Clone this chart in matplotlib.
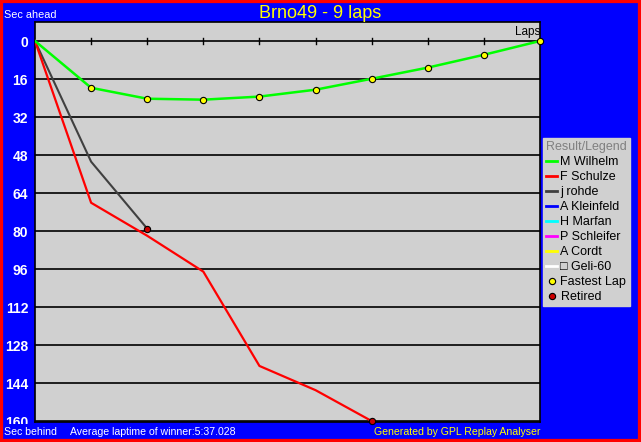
import numpy as np
import matplotlib
matplotlib.use("Agg")
import matplotlib.pyplot as plt
from matplotlib.lines import Line2D
from matplotlib.patches import Rectangle
from matplotlib.transforms import Bbox, TransformedBbox

plt.rcParams["font.family"] = ["Liberation Sans", "DejaVu Sans"]

# data
laps = np.arange(0, 10)
wilhelm = [0, 19.7, 24.3, 24.7, 23.4, 20.5, 15.9, 11.2, 5.8, 0]
schulze = [0, 68.1, 82.0, 97.1, 136.8, 147.0, 160.0]
rohde = [0, 50.8, 79.0]
yticks = np.arange(0, 161, 16)

drivers = ["M Wilhelm", "F Schulze", "j rohde", "A Kleinfeld", "H Marfan",
           "P Schleifer", "A Cordt", "\u25a1 Geli-60"]
colors = ["#00ff00", "#ff0000", "#404040", "#0000ff", "#00ffff",
          "#ff00ff", "#ffff00", "#ffffff"]

W, H = 641, 442
fig = plt.figure(figsize=(W / 100, H / 100), dpi=100, facecolor="#0000ff")
fig.patches.append(Rectangle((0, 0), 1, 1, transform=fig.transFigure,
                             fill=False, edgecolor="#ff0000", linewidth=4.5))

ax = fig.add_axes([35 / W, 1 - 422 / H, 505 / W, 400 / H])
ax.set_facecolor("#d0d0d0")
ax.set_xlim(0, 9)
ax.set_ylim(160.4, -8)
for s in ax.spines.values():
    s.set_color("black")
    s.set_linewidth(1.2)

for y in yticks:
    ax.axhline(y, color="black", lw=1.2, zorder=1)
# lap ticks on the zero line
for x in laps[1:-1]:
    ax.plot([x, x], [-1.4, 1.4], color="black", lw=1, zorder=1)

ax.set_xticks([])
ax.set_yticks(yticks)
ax.set_yticklabels([str(v) for v in yticks], color="white",
                   fontweight="bold", fontsize=10)
ax.tick_params(axis="y", length=0, pad=5)
# bottom label is cut off by the footer strip, like in the original
clip = TransformedBbox(Bbox([[0, 1 - 423.5 / H], [35 / W, 1]]), fig.transFigure)
last = ax.get_yticklabels()[-1]
last.set_clip_box(clip)
last.set_clip_on(True)

ax.plot(laps[:len(rohde)], rohde, color=colors[2], lw=1.5, zorder=3)
ax.plot(laps[:len(schulze)], schulze, color=colors[1], lw=1.6, zorder=3)
ax.plot(laps, wilhelm, color=colors[0], lw=1.8, zorder=4)
ax.plot(laps[1:], wilhelm[1:], ls="none", marker="o", ms=4.5,
        mfc="#ffff00", mec="black", mew=0.8, zorder=5, clip_on=False)
ax.plot([laps[len(rohde) - 1], laps[len(schulze) - 1]], [rohde[-1], schulze[-1]],
        ls="none", marker="o", ms=4.5, mfc="#cc0000", mec="black", mew=0.8,
        zorder=5, clip_on=False)

ax.text(9, -1.3, "Laps", ha="right", va="bottom", fontsize=8.5, color="black")

fig.text(320 / W, 1 - 14 / H, "Brno49 - 9 laps", color="#ffff00",
         fontsize=13, ha="center", va="center")
fig.text(4 / W, 1 - 15 / H, "Sec ahead", color="white", fontsize=7.8, va="center")
fig.text(4 / W, 1 - 432 / H, "Sec behind", color="white", fontsize=7.6, va="center")
fig.text(70 / W, 1 - 432 / H, "Average laptime of winner:5:37.028",
         color="white", fontsize=7.6, va="center")
fig.text(540 / W, 1 - 432 / H, "Generated by GPL Replay Analyser",
         color="#ffff00", fontsize=7.6, va="center", ha="right")

handles = [Line2D([], [], color=c, lw=2) for c in colors]
handles.append(Line2D([], [], ls="none", marker="o", ms=4.5, mfc="#ffff00",
                      mec="black", mew=0.8))
handles.append(Line2D([], [], ls="none", marker="o", ms=4.5, mfc="#cc0000",
                      mec="black", mew=0.8))
labels = drivers + ["Fastest Lap", "Retired"]
leg = fig.legend(handles, labels, loc="upper left",
                 bbox_to_anchor=(543 / W, 1 - 138 / H), fontsize=9,
                 title="Result/Legend", title_fontsize=9,
                 frameon=True, fancybox=False, facecolor="#d0d0d0",
                 edgecolor="#d0d0d0", framealpha=1, handlelength=0.9,
                 handletextpad=0.25, labelspacing=0.24, borderpad=0.25,
                 borderaxespad=0, alignment="left")
leg.get_title().set_color("#808080")

fig.savefig("out.png", dpi=100, facecolor=fig.get_facecolor())
